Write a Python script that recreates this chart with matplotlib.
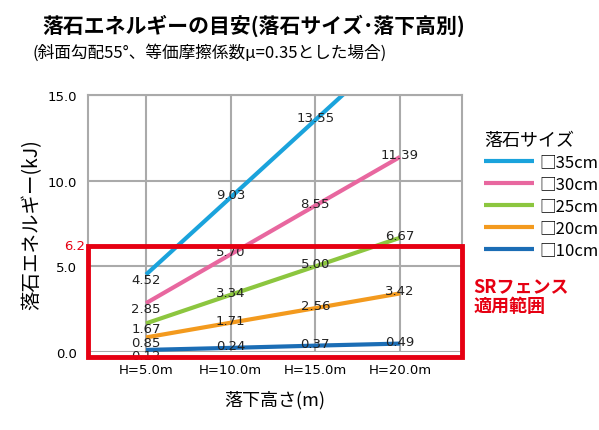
import matplotlib
matplotlib.use("Agg")
import matplotlib.pyplot as plt
from matplotlib.patches import Rectangle

plt.rcParams['font.family'] = ['Noto Sans CJK JP', 'DejaVu Sans']

categories = ["H=5.0m", "H=10.0m", "H=15.0m", "H=20.0m"]
sizes = ["□35cm", "□30cm", "□25cm", "□20cm", "□10cm"]
values = {
    "□35cm": [4.52, 9.03, 13.55, 18.07],
    "□30cm": [2.85, 5.70, 8.55, 11.39],
    "□25cm": [1.67, 3.34, 5.00, 6.67],
    "□20cm": [0.85, 1.71, 2.56, 3.42],
    "□10cm": [0.12, 0.24, 0.37, 0.49],
}
labels_shown = {"□35cm": [True, True, True, False]}
colors = ["#1aa3dc", "#e8679f", "#8cc63f", "#f39a1e", "#1b6db5"]
limit = 6.2

fig = plt.figure(figsize=(5.99, 4.31), dpi=100)
ax = fig.add_axes([0.147, 0.181, 0.624, 0.596])
x = list(range(len(categories)))
for s, c in zip(sizes, colors):
    ax.plot(x, values[s], color=c, lw=3, label=s, solid_capstyle='butt')
    show = labels_shown.get(s, [True] * 4)
    for xi, v, sh in zip(x, values[s], show):
        if sh:
            ax.text(xi, v - 0.3 if xi == 0 else v + 0.15, f"{v:.2f}", ha='center', va='center',
                    fontsize=9.5, family='DejaVu Sans', color='#222')
ax.set_xlim(-0.685, 3.73)
ax.set_ylim(0, 15)
ax.set_xticks(x)
ax.set_xticklabels(categories, fontsize=9.5, family='DejaVu Sans')
ax.set_yticks([0, 5, 10, 15])
ax.set_yticklabels(["0.0", "5.0", "10.0", "15.0"], fontsize=9.5, family='DejaVu Sans')
ax.tick_params(length=0, pad=8)
ax.grid(True, color='#aaaaaa', lw=1.5)
for sp in ax.spines.values():
    sp.set_color('#aaaaaa'); sp.set_linewidth(1.5)
ax.spines['bottom'].set_visible(False)
ax.text(-0.72, limit, "6.2", color='#e60012', ha='right', va='center', fontsize=9.5,
        family='DejaVu Sans')
ax.add_patch(Rectangle((-0.685, -0.3), 3.73 + 0.685, limit + 0.3, fill=False,
                       ec='#e60012', lw=3.5, clip_on=False, zorder=5))
ax.set_ylabel("落石エネルギー(kJ)", fontsize=14)
ax.set_xlabel("落下高さ(m)", fontsize=13, labelpad=10)
leg = ax.legend(loc='upper left', bbox_to_anchor=(1.02, 0.92), frameon=False,
                title="落石サイズ", fontsize=12, handlelength=3, handletextpad=0.3,
                labelspacing=0.3, title_fontproperties={'size': 13})
leg._legend_box.align = "left"
ax.text(1.03, 0.22, "SRフェンス\n適用範囲", transform=ax.transAxes, color='#e60012',
        fontsize=13, fontweight='bold', va='center', ha='left', linespacing=1.1)
fig.text(0.07, 0.925, "落石エネルギーの目安(落石サイズ･落下高別)", fontsize=15, fontweight='bold')
fig.text(0.055, 0.865, "(斜面勾配55°、等価摩擦係数μ=0.35とした場合)", fontsize=12)
fig.savefig("out.png", dpi=100)
